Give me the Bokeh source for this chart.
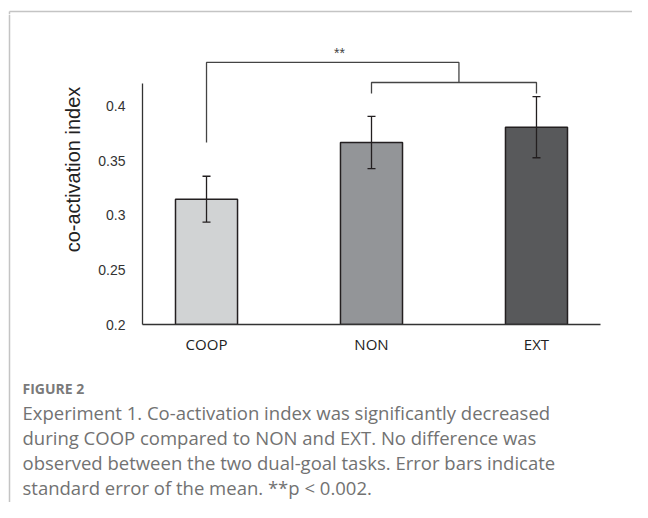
from bokeh.plotting import figure
from bokeh.layouts import column, row
from bokeh.models import ColumnDataSource, Range1d, FixedTicker, Whisker, TeeHead
from bokeh.core.properties import value
from bokeh.embed import file_html
from bokeh.resources import INLINE

categories = ["COOP", "NON", "EXT"]
means = [0.315, 0.367, 0.381]
sems = [0.021, 0.024, 0.028]
colors = ["#d1d3d4", "#939598", "#58595b"]
y_ticks = [0.2, 0.25, 0.3, 0.35, 0.4]
y_tick_labels = ["0.2", "0.25", "0.3", "0.35", "0.4"]
caption_head = "FIGURE 2"
caption_lines = [
    "Experiment 1. Co-activation index was significantly decreased",
    "during COOP compared to NON and EXT. No difference was",
    "observed between the two dual-goal tasks. Error bars indicate",
    "standard error of the mean. **p < 0.002.",
]

BORDER = "#c4c4c4"


def blank(w, h, xr, yr):
    f = figure(width=w, height=h, output_backend="svg", toolbar_location=None,
               x_range=xr, y_range=yr, x_axis_location=None, y_axis_location=None,
               min_border=0, title=None)
    f.outline_line_color = None
    f.grid.visible = False
    f.border_fill_color = "white"
    f.background_fill_color = "white"
    f.frame_align = False
    return f


# top strip (page y 0..14)
top = blank(632, 14, Range1d(0, 632), Range1d(14, 0))
top.line(x=[9, 632], y=[11, 11], line_color=BORDER, line_width=1.5)
top.line(x=[9, 9], y=[11, 14], line_color=BORDER, line_width=1.5)

# left strip (page y 14..502)
left = blank(14, 488, Range1d(0, 14), Range1d(502, 14))
left.line(x=[9, 9], y=[14, 502], line_color=BORDER, line_width=1.5)

# chart
xs = list(range(len(categories)))
src = ColumnDataSource(dict(
    x=xs, top=means, color=colors,
    upper=[m + s for m, s in zip(means, sems)],
    lower=[m - s for m, s in zip(means, sems)],
))

p = figure(width=618, height=348, output_backend="svg", toolbar_location=None,
           x_range=Range1d(-0.388, 2.388), y_range=Range1d(0.2, 0.4844),
           min_border_left=128, min_border_right=32, min_border_top=0,
           min_border_bottom=38, title=None)
p.frame_align = False
p.outline_line_color = None
p.grid.visible = False
p.background_fill_color = "white"
p.border_fill_color = "white"

p.vbar(x="x", top="top", bottom=0.2, width=0.376, source=src,
       fill_color="color", line_color="#231f20", line_width=1.5)

wh = Whisker(base="x", upper="upper", lower="lower", source=src, level="overlay",
             line_color="#231f20", line_width=1.3,
             upper_head=TeeHead(size=8, line_color="#231f20", line_width=1.3),
             lower_head=TeeHead(size=8, line_color="#231f20", line_width=1.3))
p.add_layout(wh)

# significance brackets
bc = "#444444"
p.line(x=[0, 0, 1.53, 1.53], y=[0.367, 0.4404, 0.4404, 0.422], line_color=bc, line_width=1.3)
p.line(x=[1, 1, 2, 2], y=[0.412, 0.422, 0.422, 0.412], line_color=bc, line_width=1.3)
p.text(x=[0.806], y=[0.4495], text=["**"], text_align="center", text_baseline="middle",
       text_font_size="14px", text_color="#444444", text_font=value("Liberation Sans"))

xa = p.xaxis[0]
xa.ticker = FixedTicker(ticks=xs)
xa.major_label_overrides = {i: c for i, c in zip(xs, categories)}
xa.major_tick_line_color = None
xa.minor_tick_line_color = None
xa.axis_line_color = "#333333"
xa.axis_line_width = 1.3
xa.major_label_text_font = "Open Sans"
xa.major_label_text_font_size = "15px"
xa.major_label_text_color = "#222222"
xa.major_label_standoff = 3

ya = p.yaxis[0]
ya.ticker = FixedTicker(ticks=y_ticks)
ya.major_label_overrides = {t: l for t, l in zip(y_ticks, y_tick_labels)}
ya.bounds = (0.2, 0.4211)
ya.major_tick_line_color = None
ya.minor_tick_line_color = None
ya.axis_line_color = "#333333"
ya.axis_line_width = 1.3
ya.major_label_text_font = "Liberation Sans"
ya.major_label_text_font_size = "14px"
ya.major_label_text_color = "#333333"
ya.major_label_standoff = 11
ya.axis_label = "co-activation index"
ya.axis_label_text_font = "Liberation Sans"
ya.axis_label_text_font_size = "20px"
ya.axis_label_text_font_style = "normal"
ya.axis_label_text_color = "#222222"
ya.axis_label_standoff = 11

# caption (page y 362..502)
cap = blank(618, 140, Range1d(14, 632), Range1d(502, 362))
cap.text(x=[22], y=[388], text=[caption_head], text_font=value("Open Sans"),
         text_font_size="14px", text_font_style="bold", text_color="#7a7a7a",
         text_baseline="middle")
cap.text(x=[22] * len(caption_lines), y=[412 + 25 * i for i in range(len(caption_lines))],
         text=caption_lines, text_font=value("Open Sans"), text_font_size="18.5px",
         text_color="#727272", text_baseline="middle")

layout = column(top, row(left, column(p, cap)))

open("out.html", "w").write(file_html(layout, INLINE))
